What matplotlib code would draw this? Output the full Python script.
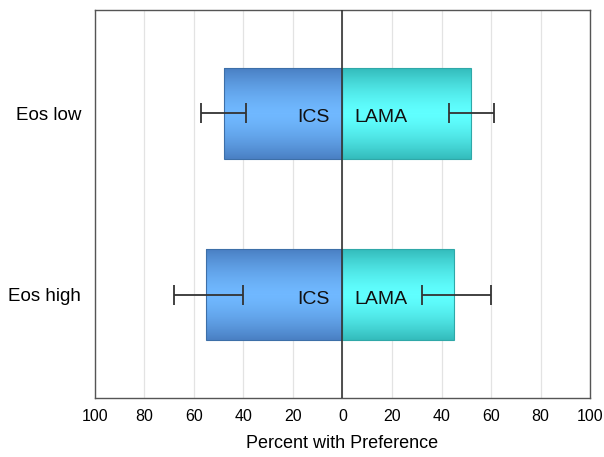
import numpy as np
import matplotlib.pyplot as plt
from matplotlib.colors import LinearSegmentedColormap

plt.rcParams['font.family'] = ['Liberation Sans', 'DejaVu Sans']

# data
groups = ['Eos high', 'Eos low']
ics_pct = [55, 48]
ics_err_out = [13, 9]   # towards 100 (left)
ics_err_in = [15, 9]    # towards 0
lama_pct = [45, 52]
lama_err_in = [13, 9]
lama_err_out = [15, 9]
ticks = [-100, -80, -60, -40, -20, 0, 20, 40, 60, 80, 100]

fig = plt.figure(figsize=(6.04, 4.57), dpi=100)
ax = fig.add_axes([0.157, 0.129, 0.820, 0.849])

bar_h = 0.5
ypos = np.arange(len(groups))

# gradient: darker edges, light middle
grad = np.abs(np.linspace(-1, 1, 100))[:, None] ** 1.5
blue_cm = LinearSegmentedColormap.from_list('b', ['#70b8ff', '#4a80c4'])
cyan_cm = LinearSegmentedColormap.from_list('c', ['#60ffff', '#34bcbc'])

for y, ics, lama in zip(ypos, ics_pct, lama_pct):
    for x0, x1, cm, ec in [(-ics, 0, blue_cm, '#3d6fa8'), (0, lama, cyan_cm, '#2fa8a8')]:
        ax.imshow(grad, cmap=cm, aspect='auto', interpolation='bilinear',
                  extent=(x0, x1, y - bar_h / 2, y + bar_h / 2), zorder=2)
        ax.add_patch(plt.Rectangle((x0, y - bar_h / 2), x1 - x0, bar_h,
                                   fill=False, ec=ec, lw=0.8, zorder=3))

ax.errorbar([-v for v in ics_pct], ypos, xerr=[ics_err_out, ics_err_in], fmt='none',
            ecolor='#333333', elinewidth=1.3, capsize=7, capthick=1.3, zorder=4)
ax.errorbar(lama_pct, ypos, xerr=[lama_err_in, lama_err_out], fmt='none',
            ecolor='#333333', elinewidth=1.3, capsize=7, capthick=1.3, zorder=4)

for y in ypos:
    ax.text(-5, y - 0.025, 'ICS', ha='right', va='center', fontsize=14, color='#111111', zorder=5)
    ax.text(5, y - 0.025, 'LAMA', ha='left', va='center', fontsize=14, color='#111111', zorder=5)

ax.axvline(0, color='#333333', lw=1.2, zorder=4)

ax.set_xlim(-100, 100)
ax.set_ylim(-0.57, 1.57)
ax.set_xticks(ticks)
ax.set_xticklabels([str(abs(t)) for t in ticks], fontsize=11.5)
ax.set_yticks(ypos)
ax.set_yticklabels(groups, fontsize=13.5)
ax.tick_params(length=0, pad=8)
ax.tick_params(axis='y', pad=10)
ax.grid(axis='x', color='#e3e3e3', lw=0.9, zorder=0)
ax.set_axisbelow(True)
for s in ax.spines.values():
    s.set_color('#555555')
    s.set_linewidth(1.0)
ax.set_xlabel('Percent with Preference', fontsize=13, labelpad=8)

plt.savefig('out.png', dpi=100)
